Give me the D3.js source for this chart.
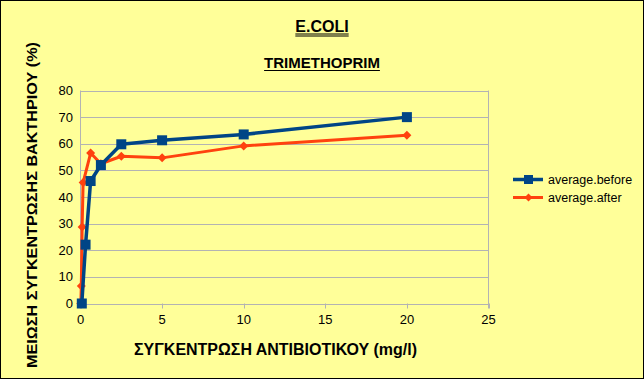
<!DOCTYPE html>
<html><head><meta charset="utf-8">
<script src="https://cdn.jsdelivr.net/npm/d3@7"></script>
<style>body{margin:0;background:#fff}svg{display:block}text{font-family:"Liberation Sans",Arial,sans-serif}</style>
</head><body>
<svg id="c" width="644" height="379"></svg>
<script>
const title = "E.COLI";
const subtitle = "TRIMETHOPRIM";
const xLabel = "ΣΥΓΚΕΝΤΡΩΣΗ ΑΝΤΙΒΙΟΤΙΚΟΥ (mg/l)";
const yLabel = "ΜΕΙΩΣΗ ΣΥΓΚΕΝΤΡΩΣΗΣ ΒΑΚΤΗΡΙΟΥ (%)";
const seriesNames = ["average.before", "average.after"];
const beforeX = [0.08, 0.31, 0.62, 1.25, 2.5, 5, 10, 20];
const beforeY = [0, 22.1, 46, 52, 59.8, 61.3, 63.5, 70];
const afterX = [0.02, 0.05, 0.1, 0.16, 0.62, 1.25, 2.5, 5, 10, 20];
const afterY = [0, 6.6, 28.7, 45.4, 56.5, 52.5, 55.3, 54.7, 59.2, 63.2];
const xTicks = [0, 5, 10, 15, 20, 25];
const yTicks = [0, 10, 20, 30, 40, 50, 60, 70, 80];
const colors = ["#004586", "#ff420e"];

const svg = d3.select("#c");
svg.append("rect").attr("x",0.5).attr("y",0.5).attr("width",643).attr("height",378)
  .attr("fill","#ffff99").attr("stroke","#000");

const x = d3.scaleLinear().domain([0,25]).range([80.5,488.5]);
const y = d3.scaleLinear().domain([0,80]).range([303.5,90.5]);

const g = svg.append("g");
g.selectAll(".gy").data(yTicks).join("line")
  .attr("x1",x(0)).attr("x2",x(25)).attr("y1",d=>Math.round(y(d))+0.5).attr("y2",d=>Math.round(y(d))+0.5)
  .attr("stroke","#b3b3b3");
g.append("line").attr("x1",x(25)).attr("x2",x(25)).attr("y1",y(80)).attr("y2",y(0)+5).attr("stroke","#b3b3b3");
g.append("line").attr("x1",x(0)).attr("x2",x(0)).attr("y1",y(80)).attr("y2",y(0)+5).attr("stroke","#b3b3b3");
g.selectAll(".tx").data(xTicks).join("line")
  .attr("x1",d=>Math.round(x(d))+0.5).attr("x2",d=>Math.round(x(d))+0.5).attr("y1",y(0)).attr("y2",y(0)+5).attr("stroke","#b3b3b3");
g.selectAll(".lx").data(xTicks).join("text")
  .attr("x",d=>x(d)).attr("y",324).attr("text-anchor","middle").attr("font-size",13).attr("fill","#000").text(d=>d);
g.selectAll(".ly").data(yTicks).join("text")
  .attr("x",73).attr("y",d=>y(d)+4.5).attr("text-anchor","end").attr("font-size",13).attr("fill","#000").text(d=>d);

function uText(tx, ty, txt, size, dbl){
  const t = svg.append("text").attr("x",tx).attr("y",ty).attr("text-anchor","middle")
    .attr("font-size",size).attr("font-weight","bold").attr("fill","#000").text(txt);
  const w = t.node().getComputedTextLength();
  svg.append("line").attr("x1",tx-w/2).attr("x2",tx+w/2).attr("y1",ty+2.5).attr("y2",ty+2.5).attr("stroke","#000").attr("stroke-width",1.2);
  if(dbl) svg.append("line").attr("x1",tx-w/2).attr("x2",tx+w/2).attr("y1",ty+4.5).attr("y2",ty+4.5).attr("stroke","#000").attr("stroke-width",1);
}
uText(322, 31.5, title, 16, true);
uText(322, 68, subtitle, 15, false);

svg.append("text").attr("x",275.5).attr("y",355).attr("text-anchor","middle").attr("font-size",16)
  .attr("font-weight","bold").attr("fill","#000").attr("textLength",283).attr("lengthAdjust","spacingAndGlyphs").text(xLabel);
svg.append("text").attr("transform","translate(37,205) rotate(-90)").attr("text-anchor","middle")
  .attr("font-size",15.5).attr("font-weight","bold").attr("fill","#000").attr("textLength",326).attr("lengthAdjust","spacingAndGlyphs").text(yLabel);

const line = d3.line().x(d=>x(d[0])).y(d=>y(d[1]));
const afterData = afterX.map((v,i)=>[v,afterY[i]]);
const beforeData = beforeX.map((v,i)=>[v,beforeY[i]]);
const diamond = (cx,cy,r)=>`M${cx},${cy-r}L${cx+r},${cy}L${cx},${cy+r}L${cx-r},${cy}Z`;

svg.append("path").datum(afterData).attr("d",line).attr("fill","none").attr("stroke",colors[1]).attr("stroke-width",3).attr("stroke-linejoin","round");
svg.selectAll(".ma").data(afterData).join("path").attr("d",d=>diamond(x(d[0]),y(d[1]),4.5)).attr("fill",colors[1]);
svg.append("path").datum(beforeData).attr("d",line).attr("fill","none").attr("stroke",colors[0]).attr("stroke-width",3.5).attr("stroke-linejoin","round");
svg.selectAll(".mb").data(beforeData).join("rect").attr("x",d=>x(d[0])-5).attr("y",d=>y(d[1])-5).attr("width",10).attr("height",10).attr("fill",colors[0]);

const leg = svg.append("g");
[0,1].forEach(i=>{
  const ly = 179.5 + i*18;
  leg.append("line").attr("x1",513).attr("x2",543).attr("y1",ly).attr("y2",ly).attr("stroke",colors[i]).attr("stroke-width",i?3:3.5);
  if(i===0) leg.append("rect").attr("x",524).attr("y",ly-4.5).attr("width",9).attr("height",9).attr("fill",colors[0]);
  else leg.append("path").attr("d",diamond(528.5,ly,4)).attr("fill",colors[1]);
  leg.append("text").attr("x",548).attr("y",ly+4.5).attr("font-size",12.5).attr("fill","#000").text(seriesNames[i]);
});
</script>
</body></html>
